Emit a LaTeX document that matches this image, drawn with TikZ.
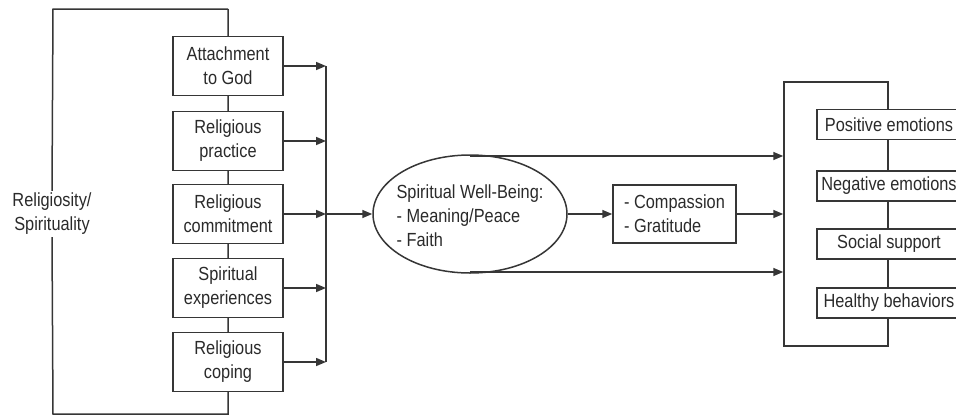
\documentclass[tikz,border=0pt]{standalone}
\usepackage{fontspec}
\setmainfont[FakeStretch=0.86]{Liberation Sans}
\usetikzlibrary{arrows.meta,shapes.geometric}
\definecolor{ink}{HTML}{363636}
\definecolor{txt}{HTML}{2A2A2A}
\begin{document}
\begin{tikzpicture}[x=1pt,y=-1pt,
  every node/.style={text=txt,font=\fontsize{19}{24}\selectfont},
  lbox/.style={draw=ink,line width=1.5pt,fill=white,minimum width=110pt,minimum height=59pt,align=center,inner sep=0pt},
  rbox/.style={draw=ink,line width=1.5pt,fill=white,minimum width=144pt,minimum height=30pt,inner sep=0pt},
  conn/.style={draw=ink,line width=1.5pt},
  arr/.style={draw=ink,line width=1.5pt,-{Triangle[length=10pt,width=8pt]}}]
\useasboundingbox (0,0) rectangle (956,418);
% left bracket
\node[align=center,inner sep=2pt] (rs) at (52,214) {Religiosity/\\Spirituality};
\coordinate (tl) at (53,9);
\coordinate (bl) at (53,414);
\coordinate (tr) at (228,9);
\coordinate (br) at (228,414);
\draw[conn] (tr) -- (tl) -- (rs.north);
\draw[conn] (rs.south) -- (bl) -- (br) -- (tr);
\node[lbox] (b1) at (228,66) {Attachment\\to God};
\node[lbox] (b2) at (228,141) {Religious\\practice};
\node[lbox] (b3) at (228,214) {Religious\\commitment};
\node[lbox] (b4) at (228,288) {Spiritual\\experiences};
\node[lbox] (b5) at (228,362) {Religious\\coping};
% collector
\coordinate (c1) at (326,66);
\coordinate (c5) at (326,362);
\coordinate (c3) at (326,214);
\draw[conn] (c1) -- (c5);
\foreach \b in {b1,b2,b3,b4,b5}
  \draw[arr] (\b.east) -- (\b.east -| c1);
% ellipse
\node[draw=ink,line width=1.5pt,ellipse,minimum width=194pt,minimum height=118pt,inner sep=0pt] (sw) at (470,214) {};
\node[align=left,inner sep=0pt] (swt) at (470,216) {Spiritual Well-Being:\\- Meaning/Peace\\- Faith};
\draw[arr] (c3) -- (sw.west);
% compassion box
\node[draw=ink,line width=1.5pt,minimum width=123pt,minimum height=58pt,align=left,inner sep=0pt] (cg) at (674.5,214) {- Compassion\\- Gratitude};
% outcome bracket
\node[draw=ink,line width=1.5pt,minimum width=104pt,minimum height=264pt,inner sep=0pt] (big) at (836,214) {};
\coordinate (tA) at (470,156);
\coordinate (tB) at (470,272);
\draw[arr] (sw.east) -- (cg.west);
\draw[arr] (tA) -- (tA -| big.west);
\draw[arr] (cg.east) -- (cg.east -| big.west);
\draw[arr] (tB) -- (tB -| big.west);
\node[rbox] (pe) at (889,124.5) {Positive emotions};
\node[rbox] (ne) at (889,186) {Negative emotions};
\node[rbox] (ss) at (889,244) {Social support};
\node[rbox] (hb) at (889,303) {Healthy behaviors};
\end{tikzpicture}
\end{document}
